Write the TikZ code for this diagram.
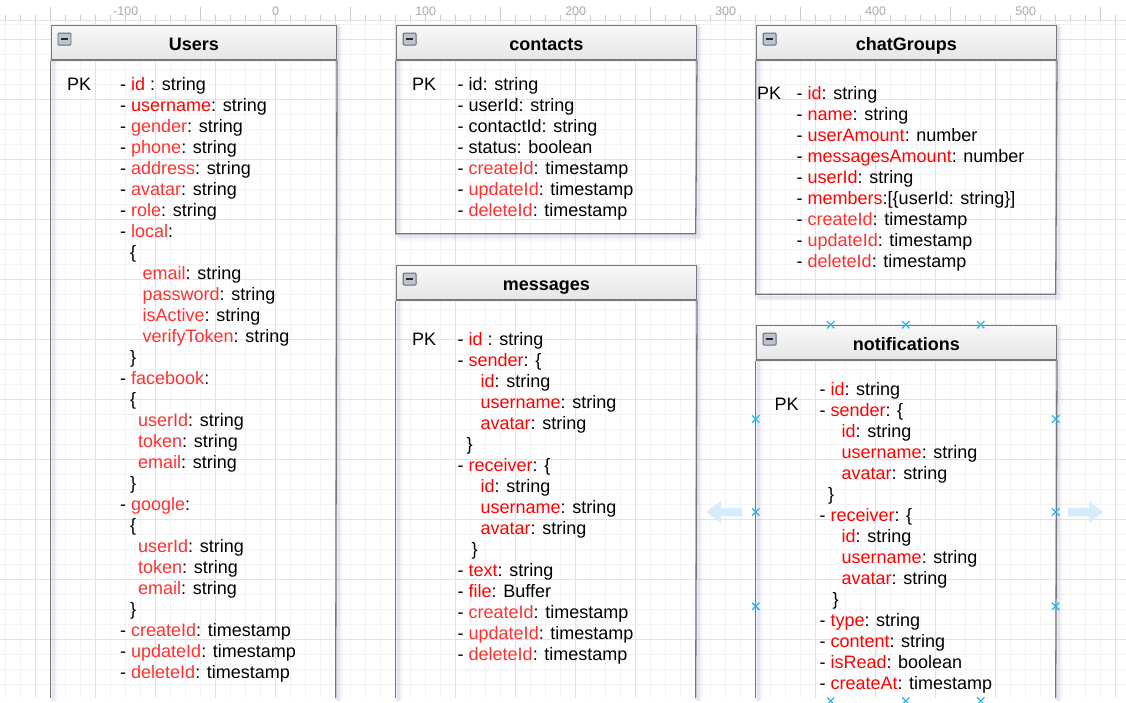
\documentclass[tikz,border=0pt]{standalone}
\usepackage{fontspec}
\setmainfont{Liberation Sans}
\usetikzlibrary{shapes.misc}
\definecolor{redA}{RGB}{255,0,0}
\definecolor{redB}{RGB}{255,48,48}
\definecolor{gridMinor}{RGB}{243,243,243}
\definecolor{gridMajor}{RGB}{226,226,226}
\definecolor{tblBorder}{RGB}{120,120,120}
\definecolor{handleBlue}{RGB}{41,182,242}
\definecolor{arrowBlue}{RGB}{214,236,250}
\definecolor{shadowCol}{RGB}{140,150,195}
\definecolor{tickCol}{RGB}{205,205,205}
\definecolor{rulerText}{RGB}{170,170,170}
\definecolor{headTop}{RGB}{248,248,248}
\definecolor{headBot}{RGB}{230,230,230}
\definecolor{iconFill}{RGB}{188,196,208}
\definecolor{iconDraw}{RGB}{95,105,120}
\newcommand\kA[1]{\textcolor{redA}{#1}}
\newcommand\kB[1]{\textcolor{redB}{#1}}
\newcommand\tshadow[1]{\foreach \w/\o in {8/0.05,5/0.07,2.5/0.1}{\draw[shadowCol, line width=\w pt, opacity=\o, line join=round, shift={(3,3)}] #1;}}
\begin{document}
\begin{tikzpicture}[x=1pt,y=-1pt,
  fld/.style={anchor=west, inner sep=0pt, text height=13pt, text depth=0pt, font=\fontsize{18}{21}\selectfont},
  tbl/.style={draw=tblBorder, line width=1.3pt},
  head/.style={draw=tblBorder, line width=1.3pt, top color=headTop, bottom color=headBot, anchor=north west, inner sep=0pt, minimum height=34.6pt, text height=15.6pt, text depth=0pt, font=\bfseries\fontsize{18}{21}\selectfont},
  minusbox/.style={draw=iconDraw, fill=iconFill, line width=0.8pt, minimum width=13pt, minimum height=12pt, inner sep=0pt, anchor=north west, rounded corners=1pt},
  minusbar/.style={draw={rgb,255:red,40;green,40;blue,45}, line width=2pt},
  handlemark/.style={cross out, draw=handleBlue, line width=1.3pt, minimum size=6pt, inner sep=0pt},
  tick/.style={draw=tickCol, line width=0.8pt},
  rlab/.style={inner sep=0pt, text=rulerText, font=\fontsize{12.5}{14}\selectfont}
]
\useasboundingbox (0,0) rectangle (1126,702);
\fill[white] (0,0) rectangle (1126,702);
% ---------- grid ----------
\begin{scope}
\clip (0,20) rectangle (1126,698);
\foreach \k in {-18,...,56} \draw[gridMinor, line width=1pt] (275.7+15*\k,20) -- (275.7+15*\k,698);
\foreach \k in {0,...,45} \draw[gridMinor, line width=1pt] (0,24.3+15*\k) -- (1126,24.3+15*\k);
\foreach \k in {-4,...,14} \draw[gridMajor, line width=1pt] (275.7+60*\k,20) -- (275.7+60*\k,698);
\foreach \k in {0,...,10} \draw[gridMajor, line width=1pt] (0,39.3+60*\k) -- (1126,39.3+60*\k);
\end{scope}
% ---------- ruler ----------
\draw[gridMajor, line width=1pt] (0,20) -- (1126,20);
\foreach \k in {-18,...,56} \draw[tick] (275.7+15*\k,15) -- (275.7+15*\k,20);
\foreach \k in {-1,...,6} \draw[tick] (200.7+150*\k,7) -- (200.7+150*\k,20);
\foreach \k/\t in {0/-100,1/0,2/100,3/200,4/300,5/400,6/500}
  \node[rlab] (rl\k) at (125.7+150*\k,11.5) {\t};
% ---------- shadows ----------
\fill[shadowCol, opacity=0.12, shift={(3,3)}] (50.7,24.7) rectangle (335.7,59.3);
\tshadow{(50.7,698) -- (50.7,24.7) -- (335.7,24.7) -- (335.7,698)}
\fill[shadowCol, opacity=0.12, shift={(3,3)}] (395.7,24.7) rectangle (695.7,59.3);
\tshadow{(395.7,24.7) rectangle (695.7,233.7)}
\fill[shadowCol, opacity=0.12, shift={(3,3)}] (395.7,264.7) rectangle (695.7,299.3);
\tshadow{(395.7,698) -- (395.7,264.7) -- (695.7,264.7) -- (695.7,698)}
\fill[shadowCol, opacity=0.12, shift={(3,3)}] (755.7,24.7) rectangle (1055.7,59.3);
\tshadow{(755.7,24.7) rectangle (1055.7,294.3)}
\fill[shadowCol, opacity=0.12, shift={(3,3)}] (755.7,324.7) rectangle (1055.7,359.3);
\tshadow{(755.7,698) -- (755.7,324.7) -- (1055.7,324.7) -- (1055.7,698)}
% ---------- tables ----------
% Users
\node[head, minimum width=285pt] (usersH) at (50.7,24.7) {Users};
\draw[tbl] (usersH.south west) -- (50.7,698);
\draw[tbl] (usersH.south east) -- (335.7,698);
\node[minusbox] (usersM) at (57.5,32.7) {};
\draw[minusbar] ([xshift=-3.5pt]usersM.center) -- ([xshift=3.5pt]usersM.center);
% contacts
\node[head, minimum width=300pt] (contactsH) at (395.7,24.7) {contacts};
\draw[tbl] (contactsH.south west) -- (395.7,233.7) -- (695.7,233.7) -- (contactsH.south east);
\node[minusbox] (contactsM) at (402.7,32.7) {};
\draw[minusbar] ([xshift=-3.5pt]contactsM.center) -- ([xshift=3.5pt]contactsM.center);
% messages
\node[head, minimum width=300pt] (messagesH) at (395.7,264.7) {messages};
\draw[tbl] (messagesH.south west) -- (395.7,698);
\draw[tbl] (messagesH.south east) -- (695.7,698);
\node[minusbox] (messagesM) at (402.7,272.7) {};
\draw[minusbar] ([xshift=-3.5pt]messagesM.center) -- ([xshift=3.5pt]messagesM.center);
% chatGroups
\node[head, minimum width=300pt] (chatH) at (755.7,24.7) {chatGroups};
\draw[tbl] (chatH.south west) -- (755.7,294.3) -- (1055.7,294.3) -- (chatH.south east);
\node[minusbox] (chatM) at (762.7,32.7) {};
\draw[minusbar] ([xshift=-3.5pt]chatM.center) -- ([xshift=3.5pt]chatM.center);
% notifications
\node[head, minimum width=300pt] (notifH) at (755.7,324.7) {notifications};
\draw[tbl] (notifH.south west) -- (755.7,698);
\draw[tbl] (notifH.south east) -- (1055.7,698);
\node[minusbox] (notifM) at (762.7,332.7) {};
\draw[minusbar] ([xshift=-3.5pt]notifM.center) -- ([xshift=3.5pt]notifM.center);
% ---------- Users fields ----------
\node[fld] (uPK) at (67,84) {PK};
\node[fld] (u1) at (120,84) {- \kA{id} : string};
\node[fld] (u2) at (120,105) {- \kA{username}: string};
\node[fld] (u3) at (120,126) {- \kB{gender}: string};
\node[fld] (u4) at (120,147) {- \kB{phone}: string};
\node[fld] (u5) at (120,168) {- \kB{address}: string};
\node[fld] (u6) at (120,189) {- \kB{avatar}: string};
\node[fld] (u7) at (120,210) {- \kB{role}: string};
\node[fld] (u8) at (120,231) {- \kB{local}:};
\node[fld] (u9) at (130,252) {\{};
\node[fld] (u10) at (142.5,273) {\kB{email}: string};
\node[fld] (u11) at (142.5,294) {\kB{password}: string};
\node[fld] (u12) at (142.5,315) {\kB{isActive}: string};
\node[fld] (u13) at (142.5,336) {\kB{verifyToken}: string};
\node[fld] (u14) at (130,357) {\}};
\node[fld] (u15) at (120,378) {- \kB{facebook}:};
\node[fld] (u16) at (130,399) {\{};
\node[fld] (u17) at (138,420) {\kB{userId}: string};
\node[fld] (u18) at (138,441) {\kB{token}: string};
\node[fld] (u19) at (138,462) {\kB{email}: string};
\node[fld] (u20) at (130,483) {\}};
\node[fld] (u21) at (120,504) {- \kB{google}:};
\node[fld] (u22) at (130,525) {\{};
\node[fld] (u23) at (138,546) {\kB{userId}: string};
\node[fld] (u24) at (138,567) {\kB{token}: string};
\node[fld] (u25) at (138,588) {\kB{email}: string};
\node[fld] (u26) at (130,609) {\}};
\node[fld] (u27) at (120,630) {- \kB{createId}: timestamp};
\node[fld] (u28) at (120,651) {- \kB{updateId}: timestamp};
\node[fld] (u29) at (120,672) {- \kB{deleteId}: timestamp};
% ---------- contacts fields ----------
\node[fld] (cPK) at (412,84) {PK};
\node[fld] (c1) at (457.5,84) {- id: string};
\node[fld] (c2) at (457.5,105) {- userId: string};
\node[fld] (c3) at (457.5,126) {- contactId: string};
\node[fld] (c4) at (457.5,147) {- status: boolean};
\node[fld] (c5) at (457.5,168) {- \kB{createId}: timestamp};
\node[fld] (c6) at (457.5,189) {- \kB{updateId}: timestamp};
\node[fld] (c7) at (457.5,210) {- \kB{deleteId}: timestamp};
% ---------- messages fields ----------
\node[fld] (mPK) at (412,339) {PK};
\node[fld] (m1) at (457.5,339) {- \kA{id} : string};
\node[fld] (m2) at (457.5,360) {- \kA{sender}: \{};
\node[fld] (m3) at (480.5,381) {\kA{id}: string};
\node[fld] (m4) at (480.5,402) {\kA{username}: string};
\node[fld] (m5) at (480.5,423) {\kA{avatar}: string};
\node[fld] (m6) at (466.5,444) {\}};
\node[fld] (m7) at (457.5,465) {- \kA{receiver}: \{};
\node[fld] (m8) at (480.5,486) {\kA{id}: string};
\node[fld] (m9) at (480.5,507) {\kA{username}: string};
\node[fld] (m10) at (480.5,528) {\kA{avatar}: string};
\node[fld] (m11) at (471.5,549) {\}};
\node[fld] (m12) at (457.5,570) {- \kA{text}: string};
\node[fld] (m13) at (457.5,591) {- \kA{file}: Buffer};
\node[fld] (m14) at (457.5,612) {- \kB{createId}: timestamp};
\node[fld] (m15) at (457.5,633) {- \kB{updateId}: timestamp};
\node[fld] (m16) at (457.5,654) {- \kB{deleteId}: timestamp};
% ---------- chatGroups fields ----------
\node[fld] (gPK) at (757,93) {PK};
\node[fld] (g1) at (796.5,93) {- \kA{id}: string};
\node[fld] (g2) at (796.5,114) {- \kA{name}: string};
\node[fld] (g3) at (796.5,135) {- \kA{userAmount}: number};
\node[fld] (g4) at (796.5,156) {- \kA{messagesAmount}: number};
\node[fld] (g5) at (796.5,177) {- \kA{userId}: string};
\node[fld] (g6) at (796.5,198) {- \kA{members}:[\{userId: string\}]};
\node[fld] (g7) at (796.5,219) {- \kB{createId}: timestamp};
\node[fld] (g8) at (796.5,240) {- \kB{updateId}: timestamp};
\node[fld] (g9) at (796.5,261) {- \kB{deleteId}: timestamp};
% ---------- notifications fields ----------
\node[fld] (nPK) at (774.5,404) {PK};
\node[fld] (n1) at (819.3,389) {- \kA{id}: string};
\node[fld] (n2) at (819.3,410) {- \kA{sender}: \{};
\node[fld] (n3) at (841.5,431) {\kA{id}: string};
\node[fld] (n4) at (841.5,452) {\kA{username}: string};
\node[fld] (n5) at (841.5,473) {\kA{avatar}: string};
\node[fld] (n6) at (828,494) {\}};
\node[fld] (n7) at (819.3,515) {- \kA{receiver}: \{};
\node[fld] (n8) at (841.5,536) {\kA{id}: string};
\node[fld] (n9) at (841.5,557) {\kA{username}: string};
\node[fld] (n10) at (841.5,578) {\kA{avatar}: string};
\node[fld] (n11) at (832.5,599) {\}};
\node[fld] (n12) at (819.3,620) {- \kA{type}: string};
\node[fld] (n13) at (819.3,641) {- \kA{content}: string};
\node[fld] (n14) at (819.3,662) {- \kA{isRead}: boolean};
\node[fld] (n15) at (819.3,683) {- \kA{createAt}: timestamp};
% ---------- selection handles ----------
\node[handlemark] (h1) at (830.7,324.7) {};
\node[handlemark] (h2) at (905.7,324.7) {};
\node[handlemark] (h3) at (980.7,324.7) {};
\node[handlemark] (h4) at (755.7,419) {};
\node[handlemark] (h5) at (1055.7,419) {};
\node[handlemark] (h6) at (755.7,512) {};
\node[handlemark] (h7) at (1055.7,512) {};
\node[handlemark] (h8) at (755.7,606.3) {};
\node[handlemark] (h9) at (1055.7,606.3) {};
\node[handlemark] (h10) at (830.7,701) {};
\node[handlemark] (h11) at (905.7,701) {};
\node[handlemark] (h12) at (980.7,701) {};
% ---------- blue clone arrows ----------
\fill[arrowBlue] (706.7,512) -- (721,501) -- (721,508) -- (742.3,508) -- (742.3,516) -- (721,516) -- (721,523) -- cycle;
\fill[arrowBlue] (1103,512) -- (1089,501) -- (1089,508) -- (1068,508) -- (1068,516) -- (1089,516) -- (1089,523) -- cycle;
\end{tikzpicture}
\end{document}
